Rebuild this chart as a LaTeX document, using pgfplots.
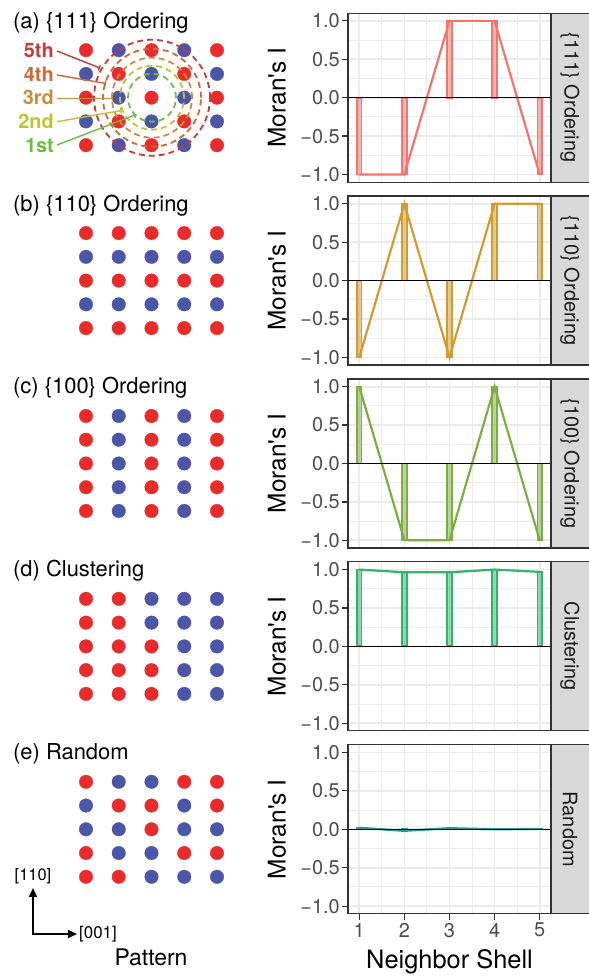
\documentclass[border=0pt]{standalone}
\usepackage{fontspec}
\setmainfont{TeX Gyre Heros}
\newfontfamily\plainfont{TeX Gyre Heros}[Ligatures=TeXOff]
\usepackage{pgfplots}
\pgfplotsset{compat=1.18}
\usetikzlibrary{arrows.meta}
\definecolor{dotred}{HTML}{EA2B2B}
\definecolor{dotblue}{HTML}{4B56A8}
\definecolor{ca}{HTML}{F3756D}
\definecolor{cb}{HTML}{D39A2D}
\definecolor{cc}{HTML}{7BAF42}
\definecolor{cd}{HTML}{2FB56A}
\definecolor{ce}{HTML}{1E9E9A}
\definecolor{gridc}{HTML}{EBEBEB}
\definecolor{grey20}{HTML}{333333}
\definecolor{grey30}{HTML}{4D4D4D}
\definecolor{grey85}{HTML}{D9D9D9}
\definecolor{grey10}{HTML}{1A1A1A}
\definecolor{s5}{HTML}{C53A3A}
\definecolor{s4}{HTML}{C96A3B}
\definecolor{s3}{HTML}{C98F3C}
\definecolor{s2}{HTML}{C2C232}
\definecolor{s1}{HTML}{6CBE45}
\newcommand{\tickfont}{\fontsize{20}{23}\selectfont}
\pgfplotsset{
 rpanel/.style={scale only axis, width=203bp, height=169bp, anchor=south west,
  xmin=0.75, xmax=5.25, ymin=-1.1, ymax=1.1,
  xtick={1,2,3,4,5}, minor xtick={1.5,2.5,3.5,4.5},
  xticklabels={1,2,3,4,5},
  ytick={-1,-0.5,0,0.5,1}, minor ytick={-0.75,-0.25,0.25,0.75},
  yticklabels={−1.0,−0.5,0.0,0.5,1.0},
  grid=both,
  major grid style={draw=gridc, line width=1.7bp},
  minor grid style={draw=gridc, line width=0.9bp},
  axis line style={draw=grey20, line width=1.2bp},
  tick align=outside, major tick length=6bp, minor tick length=0pt,
  every tick/.style={draw=grey20, line width=1.2bp},
  ytick pos=left, xtick pos=bottom,
  yticklabel style={font=\tickfont, text=grey30, inner sep=2bp},
  xticklabel style={font=\tickfont, text=grey30, inner sep=3bp},
 },
 lpanel/.style={hide axis, clip=false, scale only axis, width=131bp, height=95bp,
  anchor=south west, xmin=1, xmax=5, ymin=1, ymax=5},
 reddot/.style={only marks, color=dotred, mark=*, mark size=6.8bp, mark options={line width=0.3bp, fill=dotred, draw=dotred}},
 bluedot/.style={only marks, color=dotblue, mark=*, mark size=6.8bp, mark options={line width=0.3bp, fill=dotblue, draw=dotblue}},
 bars/.style={ybar, bar width=0.1, draw=#1, fill=#1, fill opacity=0.5, line width=1.8bp},
 conn/.style={#1, line width=2.2bp, mark=none},
 zline/.style={black, line width=1.2bp, mark=none},
}
\begin{document}
\begin{tikzpicture}
\useasboundingbox (0,0) rectangle (589bp,978bp);
% ---------------- right panels ----------------
\begin{axis}[rpanel, at={(348bp,795.8bp)}, xmajorticks=false]
\addplot[bars=ca] coordinates {(1,-1) (2,-1) (3,1) (4,1) (5,-1)};
\addplot[conn=ca] coordinates {(1,-1) (2,-1) (3,1) (4,1) (5,-1)};
\addplot[zline] coordinates {(0.75,0) (5.25,0)};
\end{axis}
\begin{axis}[rpanel, at={(348bp,612.9bp)}, xmajorticks=false]
\addplot[bars=cb] coordinates {(1,-1) (2,1) (3,-1) (4,1) (5,1)};
\addplot[conn=cb] coordinates {(1,-1) (2,1) (3,-1) (4,1) (5,1)};
\addplot[zline] coordinates {(0.75,0) (5.25,0)};
\end{axis}
\begin{axis}[rpanel, at={(348bp,430.0bp)}, xmajorticks=false]
\addplot[bars=cc] coordinates {(1,1) (2,-1) (3,-1) (4,1) (5,-1)};
\addplot[conn=cc] coordinates {(1,1) (2,-1) (3,-1) (4,1) (5,-1)};
\addplot[zline] coordinates {(0.75,0) (5.25,0)};
\end{axis}
\begin{axis}[rpanel, at={(348bp,247.1bp)}, xmajorticks=false]
\addplot[bars=cd] coordinates {(1,1.0) (2,0.965) (3,0.965) (4,1.0) (5,0.97)};
\addplot[conn=cd] coordinates {(1,1.0) (2,0.965) (3,0.965) (4,1.0) (5,0.97)};
\addplot[zline] coordinates {(0.75,0) (5.25,0)};
\end{axis}
\begin{axis}[rpanel, at={(348bp,64.2bp)}]
\addplot[bars=ce] coordinates {(1,0.02) (2,-0.02) (3,0.015) (4,0.0) (5,0.005)};
\addplot[conn=ce] coordinates {(1,0.02) (2,-0.02) (3,0.015) (4,0.0) (5,0.005)};
\addplot[zline] coordinates {(0.75,0) (5.25,0)};
\end{axis}
% ---------------- left patterns ----------------
\begin{axis}[lpanel, at={(86bp,832.8bp)}]
\addplot[reddot] coordinates {(1,5)(3,5)(5,5)(2,4)(4,4)(1,3)(3,3)(5,3)(2,2)(4,2)(1,1)(3,1)(5,1)};
\addplot[bluedot] coordinates {(2,5)(4,5)(1,4)(3,4)(5,4)(2,3)(4,3)(1,2)(3,2)(5,2)(2,1)(4,1)};
\end{axis}
\begin{axis}[lpanel, at={(86bp,649.9bp)}]
\addplot[reddot] coordinates {(1,5)(2,5)(3,5)(4,5)(5,5)(1,3)(2,3)(3,3)(4,3)(5,3)(1,1)(2,1)(3,1)(4,1)(5,1)};
\addplot[bluedot] coordinates {(1,4)(2,4)(3,4)(4,4)(5,4)(1,2)(2,2)(3,2)(4,2)(5,2)};
\end{axis}
\begin{axis}[lpanel, at={(86bp,467.0bp)}]
\addplot[reddot] coordinates {(1,1)(1,2)(1,3)(1,4)(1,5)(3,1)(3,2)(3,3)(3,4)(3,5)(5,1)(5,2)(5,3)(5,4)(5,5)};
\addplot[bluedot] coordinates {(2,1)(2,2)(2,3)(2,4)(2,5)(4,1)(4,2)(4,3)(4,4)(4,5)};
\end{axis}
\begin{axis}[lpanel, at={(86bp,284.1bp)}]
\addplot[reddot] coordinates {(1,5)(2,5)(1,4)(2,4)(1,3)(2,3)(3,3)(1,2)(2,2)(3,2)(1,1)(2,1)(3,1)};
\addplot[bluedot] coordinates {(3,5)(4,5)(5,5)(3,4)(4,4)(5,4)(4,3)(5,3)(4,2)(5,2)(4,1)(5,1)};
\end{axis}
\begin{axis}[lpanel, at={(86bp,101.2bp)}]
\addplot[reddot] coordinates {(1,5)(4,5)(5,5)(2,4)(3,4)(5,4)(3,3)(1,2)(4,2)(5,2)(1,1)(2,1)};
\addplot[bluedot] coordinates {(2,5)(3,5)(1,4)(4,4)(1,3)(2,3)(4,3)(5,3)(2,2)(3,2)(3,1)(4,1)(5,1)};
\end{axis}
% ---------------- annotations ----------------
\begin{scope}[x=1bp,y=1bp]
% strips and y titles
\foreach \c/\lab in {880.3/{\{111\} Ordering},697.4/{\{110\} Ordering},514.5/{\{100\} Ordering},331.6/{Clustering},148.7/{Random}}{
  \draw[fill=grey85, draw=grey20, line width=1.2bp] (551,\c-84.5) rectangle (596,\c+84.5);
  \node[rotate=-90, text=grey10, font=\fontsize{20}{23}\selectfont] at (570,\c) {\lab};
  \node[rotate=90, font=\plainfont\fontsize{24.5}{27}\selectfont] at (277,\c) {Moran's I};
}
% panel titles
\foreach \c/\lab in {880.3/{(a) \{111\} Ordering},697.4/{(b) \{110\} Ordering},514.5/{(c) \{100\} Ordering},331.6/{(d) Clustering},148.7/{(e) Random}}{
  \node[anchor=base west, inner sep=0, font=\fontsize{22}{25}\selectfont] at (13,\c+69.5) {\lab};
}
% shell circles
\foreach \r/\col in {58/s5,49/s4,40/s3,32/s2,24/s1}{
  \draw[\col, line width=1.8bp, dash pattern=on 6bp off 4bp] (152,880.3) circle (\r);
}
% shell labels and leaders
\begin{scope}[font=\fontsize{20}{23}\selectfont\bfseries]
\node[anchor=east, text=s5, inner sep=0] at (54,927.8) {5th};
\node[anchor=east, text=s4, inner sep=0] at (54,904.05) {4th};
\node[anchor=east, text=s3, inner sep=0] at (54,880.3) {3rd};
\node[anchor=east, text=s2, inner sep=0] at (54,856.55) {2nd};
\node[anchor=east, text=s1, inner sep=0] at (54,832.8) {1st};
\end{scope}
\draw[s5, line width=1.4bp, -{Bar[width=6bp]}] (57,927) -- (100,910);
\draw[s4, line width=1.4bp, -{Bar[width=6bp]}] (57,903) -- (106,894.5);
\draw[s3, line width=1.4bp, -{Bar[width=6bp]}] (57,879.7) -- (113,879.7);
\draw[s2, line width=1.4bp, -{Bar[width=6bp]}] (57,856.3) -- (121.5,867.5);
\draw[s1, line width=1.4bp, -{Bar[width=6bp]}] (57,833) -- (135,863);
% bottom titles
\node[anchor=base, inner sep=0, font=\fontsize{25.5}{28}\selectfont] at (449.5,10) {Neighbor Shell};
\node[anchor=base, inner sep=0, font=\fontsize{23}{26}\selectfont] at (151,13) {Pattern};
% direction arrows
\draw[line width=2bp, -{Triangle[length=9bp,width=8bp]}] (33,44) -- (33,90);
\draw[line width=2bp, -{Triangle[length=9bp,width=8bp]}] (32,44) -- (77,44);
\node[font=\fontsize{16.5}{19}\selectfont] at (33,102) {[110]};
\node[anchor=west, inner sep=1bp, font=\fontsize{17}{19}\selectfont] at (78,44) {[001]};
\end{scope}
\end{tikzpicture}
\end{document}
